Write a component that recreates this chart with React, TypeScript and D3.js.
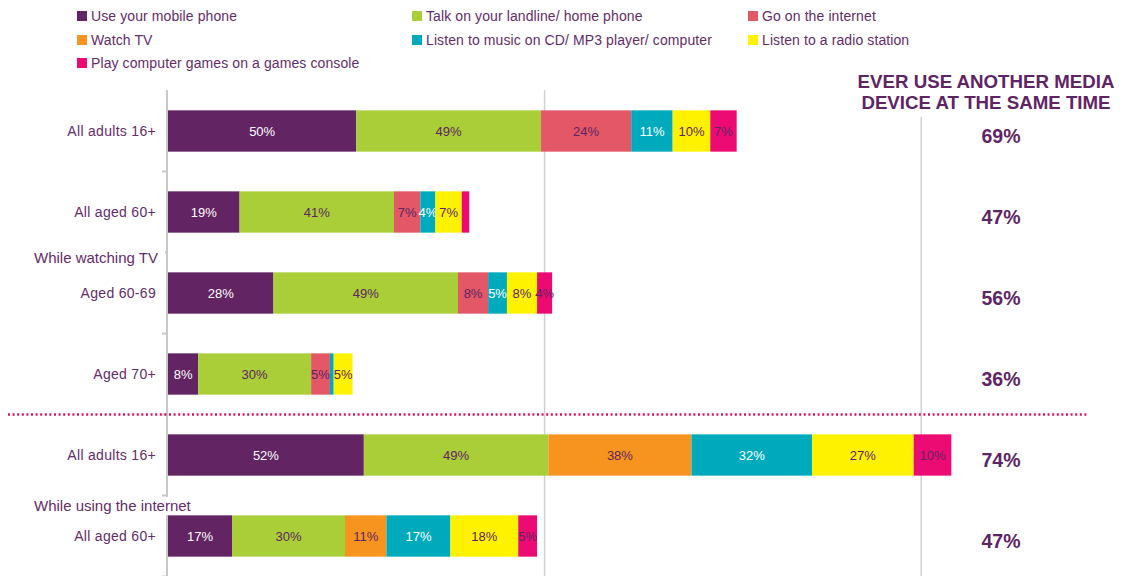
import React from "react";
import * as d3 from "d3";

const rowLabels = ["All adults 16+", "All aged 60+", "Aged 60-69", "Aged 70+", "All adults 16+", "All aged 60+"];
const rowIds = ["r1", "r2", "r3", "r4", "r5", "r6"];
const seriesNames = [
  "Use your mobile phone",
  "Talk on your landline/ home phone",
  "Go on the internet",
  "Watch TV",
  "Listen to music on CD/ MP3 player/ computer",
  "Listen to a radio station",
  "Play computer games on a games console",
];
const seriesColors = ["#622463", "#A9CE38", "#E35767", "#F7941F", "#00AABD", "#FFF200", "#EC0B72"];
const labelColors = ["#ffffff", "#5E2462", "#5E2462", "#5E2462", "#ffffff", "#5E2462", "#5E2462"];

const mobile = [50, 19, 28, 8, 52, 17];
const landline = [49, 41, 49, 30, 49, 30];
const internet = [24, 7, 8, 5, 0, 0];
const watchTV = [0, 0, 0, 0, 38, 11];
const music = [11, 4, 5, 1, 32, 17];
const radio = [10, 7, 8, 5, 27, 18];
const games = [7, 2, 4, 0, 10, 5];
const everUse = [69, 47, 56, 36, 74, 47];
const groupLabels = ["While watching TV", "While using the internet"];
const xTicks = [0, 100, 200];

const series = [mobile, landline, internet, watchTV, music, radio, games];

const TEXT = "#642C6B";
const FONT = "Liberation Sans, Arial, sans-serif";

export default function App() {
  const x = d3.scaleLinear().domain([0, 250]).range([168, 1109.5]);
  const y = d3.scaleBand<string>().domain(rowIds).range([90.5, 576.5]).paddingInner(0.49).paddingOuter(0.245);
  const bw = y.bandwidth();
  const step = y.step();

  const table = rowIds.map((id, i) => {
    const o: any = { id };
    series.forEach((s, k) => (o["s" + k] = s[i]));
    return o;
  });
  const stack = d3.stack<any>().keys(series.map((_, k) => "s" + k))(table);

  const legendCols = [77, 412, 748];
  const legendRows = [16, 40, 63];

  const boundaries = rowIds.map((id) => (y(id) as number) + bw + (step - bw) / 2);

  return (
    <svg width={1121} height={576} style={{ position: "absolute", left: 0, top: 0, fontFamily: FONT }}>
      <rect width={1121} height={576} fill="#fff" />
      {/* legend */}
      {seriesNames.map((name, k) => {
        const cx = legendCols[k % 3];
        const cy = legendRows[Math.floor(k / 3)];
        return (
          <g key={name}>
            <rect x={cx} y={cy - 5} width={10} height={10} fill={seriesColors[k]} />
            <text x={cx + 14} y={cy} dy="0.35em" fontSize={14} fill={TEXT} letterSpacing={0.1}>
              {name}
            </text>
          </g>
        );
      })}
      {/* gridlines */}
      {xTicks.slice(1).map((t, i) => (
        <line key={t} x1={x(t)} x2={x(t)} y1={i === 0 ? 90 : 117} y2={576} stroke="#D2D2D2" strokeWidth={1.5} />
      ))}
      {/* axis */}
      <line x1={167} x2={167} y1={90} y2={576} stroke="#C8C8C8" strokeWidth={2} />
      {boundaries.map((b, i) => (
        <line key={i} x1={162} x2={167} y1={b} y2={b} stroke="#C8C8C8" strokeWidth={2} />
      ))}
      {/* bars */}
      {stack.map((layer, k) =>
        layer.map((d, i) => {
          const v = d[1] - d[0];
          if (v <= 0) return null;
          const x0 = x(d[0]);
          const x1 = x(d[1]);
          const yy = y(rowIds[i]) as number;
          return (
            <g key={k + "-" + i}>
              <rect x={x0} y={yy} width={x1 - x0} height={bw} fill={seriesColors[k]} />
              {v >= 3 && (
                <text
                  x={(x0 + x1) / 2}
                  y={yy + bw / 2}
                  dy="0.35em"
                  textAnchor="middle"
                  fontSize={13}
                  fill={labelColors[k]}
                >
                  {v + "%"}
                </text>
              )}
            </g>
          );
        })
      )}
      {/* row labels */}
      {rowIds.map((id, i) => (
        <text
          key={id}
          x={156}
          y={(y(id) as number) + bw / 2}
          dy="0.35em"
          textAnchor="end"
          fontSize={14}
          fill={TEXT}
          letterSpacing={0.3}
        >
          {rowLabels[i]}
        </text>
      ))}
      {/* group labels */}
      <rect x={30} y={248} width={135} height={18} fill="#fff" />
      <text x={34} y={(y("r3") as number) - 15} dy="0.35em" fontSize={15} fill={TEXT}>
        {groupLabels[0]}
      </text>
      <rect x={30} y={497} width={200} height={18} fill="#fff" />
      <text x={34} y={(y("r6") as number) - 10} dy="0.35em" fontSize={15} fill={TEXT}>
        {groupLabels[1]}
      </text>
      {/* separator */}
      <line
        x1={8}
        x2={1088}
        y1={boundaries[3]}
        y2={boundaries[3]}
        stroke="#D6175F"
        strokeWidth={2.5}
        strokeDasharray="2 2.6"
      />
      {/* right column */}
      <text x={986} y={81} dy="0.35em" textAnchor="middle" fontSize={18.7} fontWeight="bold" fill="#5E2464">
        EVER USE ANOTHER MEDIA
      </text>
      <text x={986} y={102} dy="0.35em" textAnchor="middle" fontSize={18.7} fontWeight="bold" fill="#5E2464">
        DEVICE AT THE SAME TIME
      </text>
      {everUse.map((v, i) => (
        <text
          key={i}
          x={1001}
          y={(y(rowIds[i]) as number) + bw / 2 + 5}
          dy="0.35em"
          textAnchor="middle"
          fontSize={19.5}
          fontWeight="bold"
          fill="#5E2464"
        >
          {v + "%"}
        </text>
      ))}
    </svg>
  );
}
